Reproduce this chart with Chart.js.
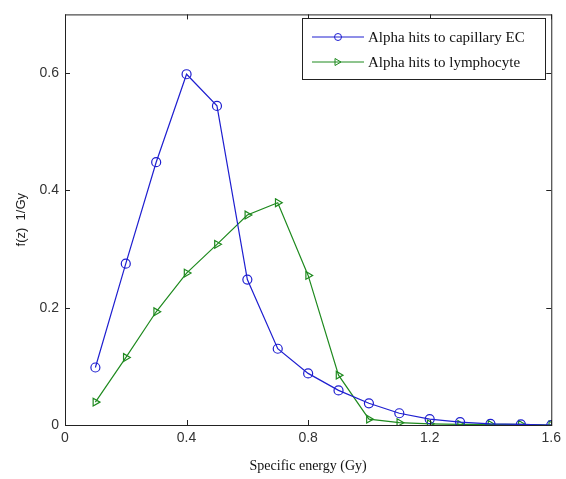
<!DOCTYPE html>
<html>
<head>
<meta charset="utf-8">
<script src="https://cdn.jsdelivr.net/npm/chart.js@4"></script>
<style>
  html, body { margin: 0; padding: 0; background: #fff; }
  #wrap { width: 566px; height: 479px; }
</style>
</head>
<body>
<div id="wrap"><canvas id="chart" width="566" height="479"></canvas></div>
<script>
const energy = [0.1, 0.2, 0.3, 0.4, 0.5, 0.6, 0.7, 0.8, 0.9, 1.0, 1.1, 1.2, 1.3, 1.4, 1.5, 1.6];
const capillaryEC = [0.098, 0.275, 0.448, 0.598, 0.544, 0.248, 0.130, 0.088, 0.059, 0.037, 0.020, 0.010, 0.005, 0.002, 0.001, 0.0];
const lymphocyte = [0.039, 0.115, 0.193, 0.259, 0.308, 0.358, 0.379, 0.255, 0.085, 0.010, 0.004, 0.002, 0.001, 0.001, 0.001, 0.0];
const xTicks = [0, 0.4, 0.8, 1.2, 1.6];
const yTicks = [0, 0.2, 0.4, 0.6];
const seriesNames = ['Alpha hits to capillary EC', 'Alpha hits to lymphocyte'];

const blue = '#1f1fd0';
const green = '#1f8a1f';

function pts(ys) {
  return energy.map((x, i) => ({x: x, y: ys[i]}));
}

// box, inward ticks and legend drawn like the matlab figure
const boxPlugin = {
  id: 'box',
  afterDraw(chart) {
    const ctx = chart.ctx;
    const a = chart.chartArea;
    const xs = chart.scales.x, ys = chart.scales.y;
    ctx.save();
    ctx.strokeStyle = '#222';
    ctx.lineWidth = 1;
    ctx.strokeRect(a.left + 0.5, a.top + 0.5, a.right - a.left, a.bottom - a.top);
    ctx.beginPath();
    xTicks.forEach(v => {
      const px = Math.round(xs.getPixelForValue(v)) + 0.5;
      ctx.moveTo(px, a.bottom); ctx.lineTo(px, a.bottom - 5);
      ctx.moveTo(px, a.top); ctx.lineTo(px, a.top + 5);
    });
    yTicks.forEach(v => {
      const py = Math.round(ys.getPixelForValue(v)) + 0.5;
      ctx.moveTo(a.left, py); ctx.lineTo(a.left + 5, py);
      ctx.moveTo(a.right, py); ctx.lineTo(a.right - 5, py);
    });
    ctx.stroke();

    // legend
    const lx = 302, ly = 18, lw = 243, lh = 61;
    ctx.fillStyle = '#fff';
    ctx.fillRect(lx, ly, lw, lh);
    ctx.strokeStyle = '#222';
    ctx.strokeRect(lx + 0.5, ly + 0.5, lw, lh);
    ctx.font = '15px "Liberation Serif", "Times New Roman", serif';
    ctx.textBaseline = 'middle';
    chart.data.datasets.forEach((ds, i) => {
      const y = ly + 19 + i * 25;
      ctx.strokeStyle = ds.borderColor;
      ctx.beginPath();
      ctx.moveTo(lx + 10, y); ctx.lineTo(lx + 62, y);
      ctx.stroke();
      ctx.beginPath();
      if (i === 0) {
        ctx.arc(lx + 36, y, 3.5, 0, Math.PI * 2);
      } else {
        ctx.moveTo(lx + 33, y - 3.5); ctx.lineTo(lx + 39, y); ctx.lineTo(lx + 33, y + 3.5); ctx.closePath();
      }
      ctx.stroke();
      ctx.fillStyle = '#111';
      ctx.fillText(seriesNames[i], lx + 66, y + 1);
    });
    ctx.restore();
  }
};

new Chart(document.getElementById('chart').getContext('2d'), {
  type: 'line',
  data: {
    datasets: [{
      label: seriesNames[0],
      data: pts(capillaryEC),
      borderColor: blue,
      backgroundColor: 'rgba(0,0,0,0)',
      borderWidth: 1.2,
      pointStyle: 'circle',
      pointRadius: 4.5,
      pointBorderWidth: 1.2,
      pointBorderColor: blue,
      pointBackgroundColor: 'rgba(0,0,0,0)',
      tension: 0
    }, {
      label: seriesNames[1],
      data: pts(lymphocyte),
      borderColor: green,
      backgroundColor: 'rgba(0,0,0,0)',
      borderWidth: 1.2,
      pointStyle: 'triangle',
      rotation: 90,
      pointRadius: 4.5,
      pointBorderWidth: 1.2,
      pointBorderColor: green,
      pointBackgroundColor: 'rgba(0,0,0,0)',
      tension: 0
    }]
  },
  options: {
    responsive: false,
    animation: false,
    layout: { padding: { top: 11, right: 13, left: 0, bottom: 0 } },
    plugins: { legend: { display: false }, tooltip: { enabled: false } },
    scales: {
      x: {
        type: 'linear',
        min: 0, max: 1.6,
        afterBuildTicks: s => { s.ticks = xTicks.map(v => ({value: v})); },
        afterFit: s => { s.height = 54; },
        grid: { display: false, drawTicks: false },
        border: { display: false },
        ticks: {
          color: '#333', padding: 5,
          font: { family: '"Liberation Sans", Arial, sans-serif', size: 14 },
          callback: v => String(v)
        },
        title: {
          display: true, text: 'Specific energy (Gy)', color: '#111',
          font: { family: '"Liberation Serif", "Times New Roman", serif', size: 14 },
          padding: { top: 0, bottom: 4 }
        }
      },
      y: {
        type: 'linear',
        min: 0, max: 0.7,
        afterBuildTicks: s => { s.ticks = yTicks.map(v => ({value: v})); },
        afterFit: s => { s.width = 65; },
        grid: { display: false, drawTicks: false },
        border: { display: false },
        ticks: {
          color: '#333', padding: 6,
          font: { family: '"Liberation Sans", Arial, sans-serif', size: 14 },
          callback: v => String(v)
        },
        title: {
          display: true, text: 'f(z)  1/Gy', color: '#222',
          font: { family: '"Liberation Sans", Arial, sans-serif', size: 13 },
          padding: { top: 14, bottom: 0 }
        }
      }
    }
  },
  plugins: [boxPlugin]
});
</script>
</body>
</html>
